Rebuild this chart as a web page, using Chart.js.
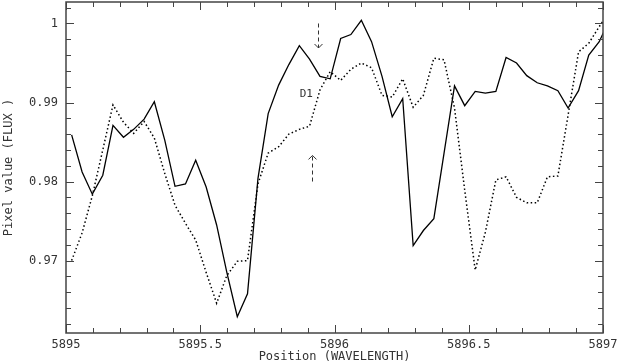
<!DOCTYPE html>
<html lang="en">
<head>
    <meta charset="UTF-8">
    <title>Pixel value vs Position</title>
    <script src="https://cdn.jsdelivr.net/npm/chart.js"></script>
    <style>
        body { margin: 0; background: #fff; }
        #wrap { width: 618px; height: 362px; }
    </style>
</head>
<body>
<div id="wrap"><canvas id="spec" width="618" height="362"></canvas></div>

<script>
    // wavelength grid (Angstrom) and the two spectra
    const wavelength = [
        5895.021, 5895.060, 5895.098, 5895.137, 5895.175, 5895.214, 5895.252, 5895.291, 5895.329, 5895.368,
        5895.406, 5895.445, 5895.483, 5895.522, 5895.561, 5895.599, 5895.638, 5895.676, 5895.715, 5895.753,
        5895.792, 5895.830, 5895.869, 5895.907, 5895.946, 5895.984, 5896.023, 5896.061, 5896.100, 5896.138,
        5896.177, 5896.215, 5896.254, 5896.293, 5896.331, 5896.370, 5896.408, 5896.447, 5896.485, 5896.524,
        5896.562, 5896.601, 5896.639, 5896.678, 5896.716, 5896.755, 5896.793, 5896.832, 5896.870, 5896.909,
        5896.947, 5896.986, 5897.024
    ];
    const fluxSolid = [
        0.9859, 0.9812, 0.9784, 0.9808, 0.9871, 0.9856, 0.9866, 0.9879, 0.9901, 0.9852,
        0.9794, 0.9797, 0.9827, 0.9793, 0.9745, 0.9685, 0.9629, 0.9658, 0.9804, 0.9886,
        0.9922, 0.9948, 0.9972, 0.9955, 0.9933, 0.9930, 0.9981, 0.9986, 1.0004, 0.9977,
        0.9933, 0.9882, 0.9905, 0.9719, 0.9738, 0.9753, 0.9836, 0.9921, 0.9896, 0.9914,
        0.9912, 0.9914, 0.9957, 0.9950, 0.9934, 0.9925, 0.9921, 0.9915, 0.9893, 0.9915,
        0.9960, 0.9977, 1.0005
    ];
    const fluxDotted = [
        0.9700, 0.9735, 0.9782, 0.9840, 0.9897, 0.9875, 0.9861, 0.9876, 0.9855, 0.9810,
        0.9770, 0.9747, 0.9726, 0.9685, 0.9646, 0.9681, 0.9699, 0.9700, 0.9797, 0.9836,
        0.9844, 0.9860, 0.9866, 0.9870, 0.9916, 0.9939, 0.9928, 0.9942, 0.9950, 0.9944,
        0.9909, 0.9907, 0.9930, 0.9894, 0.9909, 0.9956, 0.9954, 0.9893, 0.9789, 0.9688,
        0.9736, 0.9802, 0.9806, 0.9780, 0.9773, 0.9773, 0.9806, 0.9807, 0.9884, 0.9964,
        0.9975, 0.9996, 1.0015
    ];

    const xTickValues = [5895, 5895.5, 5896, 5896.5, 5897];
    const yTickValues = [0.97, 0.98, 0.99, 1];

    // line marker: label plus two dashed arrows (wavelength, flux ends)
    const markLabel = 'D1';
    const downArrow = { x: 5895.94, from: 1.0000, to: 0.9969 };
    const upArrow = { x: 5895.915, from: 0.9800, to: 0.9833 };
    const labelPos = { x: 5895.895, y: 0.9911 };

    const ink = '#333';
    const monoFont = 'DejaVu Sans Mono';

    function toPoints(ys) {
        return wavelength.map((w, i) => ({ x: w, y: ys[i] }));
    }

    // frame with inward major/minor ticks on all four sides, plus the D1 marks
    const framePlugin = {
        id: 'frame',
        afterDraw(chart) {
            const { ctx, chartArea: a, scales: { x, y } } = chart;
            ctx.save();
            ctx.strokeStyle = '#444';
            ctx.lineWidth = 1.5;
            ctx.strokeRect(a.left, a.top, a.right - a.left, a.bottom - a.top);

            ctx.lineWidth = 1;
            ctx.beginPath();
            for (let i = 0; i <= 20; i++) {
                const v = 5895 + i * 0.1;
                const px = Math.round(x.getPixelForValue(v)) + 0.5;
                const len = i % 5 === 0 ? 8 : 5;
                ctx.moveTo(px, a.bottom); ctx.lineTo(px, a.bottom - len);
                ctx.moveTo(px, a.top); ctx.lineTo(px, a.top + len);
            }
            for (let i = 0; i <= 20; i++) {
                const v = 0.962 + i * 0.002;
                if (v > y.max) break;
                const py = Math.round(y.getPixelForValue(v)) + 0.5;
                const len = Math.round(v * 1000) % 10 === 0 ? 8 : 5;
                ctx.moveTo(a.left, py); ctx.lineTo(a.left + len, py);
                ctx.moveTo(a.right, py); ctx.lineTo(a.right - len, py);
            }
            ctx.stroke();

            // arrows
            ctx.strokeStyle = ink;
            [downArrow, upArrow].forEach(ar => {
                const px = Math.round(x.getPixelForValue(ar.x)) + 0.5;
                const p1 = y.getPixelForValue(ar.from);
                const p2 = y.getPixelForValue(ar.to);
                const dir = p2 > p1 ? 1 : -1;
                ctx.setLineDash([4, 3]);
                ctx.beginPath();
                ctx.moveTo(px, p1); ctx.lineTo(px, p2);
                ctx.stroke();
                ctx.setLineDash([]);
                ctx.beginPath();
                ctx.moveTo(px - 4, p2 - dir * 4);
                ctx.lineTo(px, p2);
                ctx.lineTo(px + 4, p2 - dir * 4);
                ctx.stroke();
            });

            ctx.fillStyle = ink;
            ctx.font = '11px ' + monoFont;
            ctx.textAlign = 'center';
            ctx.textBaseline = 'middle';
            ctx.fillText(markLabel, x.getPixelForValue(labelPos.x), y.getPixelForValue(labelPos.y));
            ctx.restore();
        }
    };

    const ctx = document.getElementById('spec').getContext('2d');
    const chart = new Chart(ctx, {
        type: 'line',
        data: {
            datasets: [
                {
                    label: 'solid',
                    data: toPoints(fluxSolid),
                    borderColor: '#000',
                    borderWidth: 1.3,
                    pointRadius: 0,
                    tension: 0,
                    fill: false
                },
                {
                    label: 'dotted',
                    data: toPoints(fluxDotted),
                    borderColor: '#000',
                    borderWidth: 1.5,
                    borderDash: [1.5, 2.5],
                    pointRadius: 0,
                    tension: 0,
                    fill: false
                }
            ]
        },
        options: {
            responsive: false,
            animation: false,
            events: [],
            layout: { padding: { top: 2, right: 15, left: 0, bottom: 0 } },
            plugins: { legend: { display: false }, tooltip: { enabled: false } },
            scales: {
                x: {
                    type: 'linear',
                    min: 5895,
                    max: 5897,
                    grid: { display: false, drawTicks: false },
                    border: { display: false },
                    afterBuildTicks: s => { s.ticks = xTickValues.map(v => ({ value: v })); },
                    afterFit: s => { s.height = 29; s.paddingLeft = 0; s.paddingRight = 0; },
                    ticks: {
                        callback: v => String(v),
                        color: ink,
                        font: { family: monoFont, size: 12 },
                        padding: 5,
                        maxRotation: 0,
                        autoSkip: false
                    },
                    title: {
                        display: true,
                        text: 'Position (WAVELENGTH)',
                        color: ink,
                        font: { family: monoFont, size: 12, lineHeight: 1 },
                        padding: { top: 2, bottom: -1 }
                    }
                },
                y: {
                    type: 'linear',
                    min: 0.96083,
                    max: 1.00272,
                    grid: { display: false, drawTicks: false },
                    border: { display: false },
                    afterBuildTicks: s => { s.ticks = yTickValues.map(v => ({ value: v })); },
                    afterFit: s => { s.width = 66; s.paddingTop = 0; s.paddingBottom = 0; },
                    ticks: {
                        callback: v => String(v),
                        color: ink,
                        font: { family: monoFont, size: 12 },
                        padding: 8
                    },
                    title: {
                        display: true,
                        text: 'Pixel value (FLUX )',
                        color: ink,
                        font: { family: monoFont, size: 12, lineHeight: 1 },
                        padding: { top: 3, bottom: 2 }
                    }
                }
            }
        },
        plugins: [framePlugin]
    });
</script>
</body>
</html>
